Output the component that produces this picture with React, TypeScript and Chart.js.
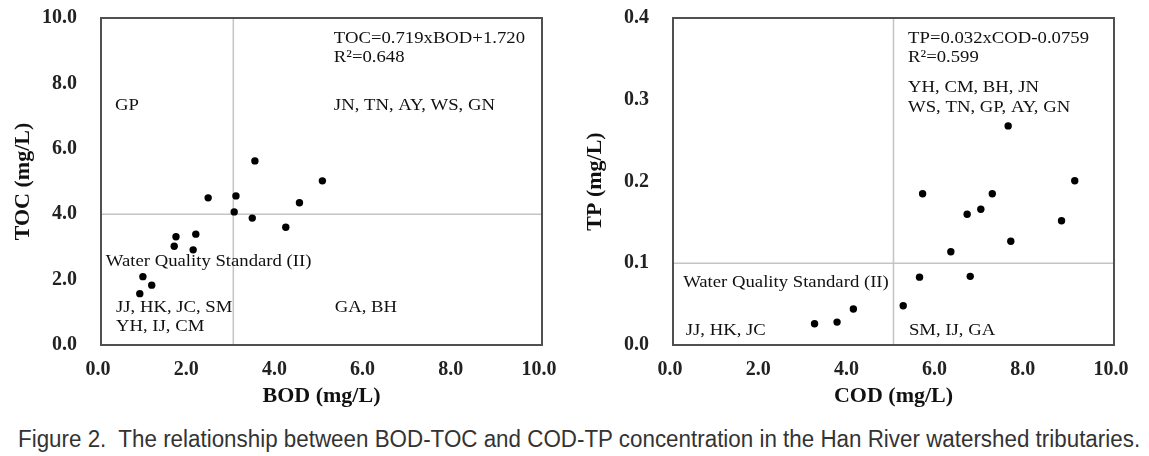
import React, { useEffect, useLayoutEffect, useRef } from "react";
import { Chart, registerables } from "chart.js";

Chart.register(...registerables);

// ---- data ----
const BOD = [3.49, 5.02, 2.43, 3.06, 4.5, 3.02, 3.43, 4.19, 1.7, 2.15, 1.66, 2.09, 0.95, 1.15, 0.88];
const TOC = [5.63, 5.02, 4.5, 4.56, 4.35, 4.07, 3.88, 3.6, 3.31, 3.39, 3.02, 2.91, 2.09, 1.83, 1.57];

const COD = [9.11, 5.66, 7.24, 6.67, 6.98, 8.81, 7.66, 6.3, 5.59, 6.74, 5.22, 4.09, 3.72, 3.21, 7.6];
const TP = [0.201, 0.185, 0.185, 0.16, 0.166, 0.152, 0.127, 0.114, 0.083, 0.084, 0.048, 0.044, 0.028, 0.026, 0.268];

const BOD_STANDARD = 3;
const TOC_STANDARD = 4;
const COD_STANDARD = 5;
const TP_STANDARD = 0.1;

const LEFT_NOTES = [
  "TOC=0.719xBOD+1.720",
  "R\u00B2=0.648",
  "GP",
  "JN, TN, AY, WS, GN",
  "Water Quality Standard (II)",
  "JJ, HK, JC, SM",
  "YH, IJ, CM",
  "GA, BH",
];
const RIGHT_NOTES = [
  "TP=0.032xCOD-0.0759",
  "R\u00B2=0.599",
  "YH, CM, BH, JN",
  "WS, TN, GP, AY, GN",
  "Water Quality Standard (II)",
  "JJ, HK, JC",
  "SM, IJ, GA",
];

const CAPTION =
  "Figure 2.  The relationship between BOD-TOC and COD-TP concentration in the Han River watershed tributaries.";

// ---- layout (anchor positions of notes, in axis units) ----
const LEFT_NOTE_POS = [
  [5.28, 9.38],
  [5.28, 8.8],
  [0.32, 7.33],
  [5.28, 7.33],
  [0.11, 2.54],
  [0.34, 1.16],
  [0.34, 0.55],
  [5.3, 1.16],
];
const RIGHT_NOTE_POS = [
  [5.33, 0.375],
  [5.33, 0.352],
  [5.33, 0.315],
  [5.33, 0.29],
  [0.23, 0.077],
  [0.29, 0.018],
  [5.35, 0.018],
];

const SERIF = '"Liberation Serif", "Times New Roman", serif';

const framePlugin = {
  id: "frame",
  beforeDatasetsDraw(chart: any, _args: any, opts: any) {
    const { ctx, chartArea: a, scales } = chart;
    const x = scales.x;
    const y = scales.y;
    ctx.save();
    // quadrant lines
    ctx.strokeStyle = "#c4c4c4";
    ctx.lineWidth = 1.5;
    const vx = x.getPixelForValue(opts.xStd);
    const hy = y.getPixelForValue(opts.yStd);
    ctx.beginPath();
    ctx.moveTo(vx, a.top);
    ctx.lineTo(vx, a.bottom);
    ctx.moveTo(a.left, hy);
    ctx.lineTo(a.right, hy);
    ctx.stroke();
    // frame
    ctx.strokeStyle = "#505050";
    ctx.lineWidth = 2;
    ctx.strokeRect(a.left, a.top, a.right - a.left, a.bottom - a.top);
    // notes
    ctx.fillStyle = "#111";
    ctx.font = `17px ${SERIF}`;
    ctx.textBaseline = "middle";
    ctx.textAlign = "left";
    opts.notes.forEach((t: string, i: number) => {
      const p = opts.pos[i];
      const px = x.getPixelForValue(p[0]);
      const py = y.getPixelForValue(p[1]);
      ctx.save();
      ctx.translate(px, py);
      ctx.scale(1.1, 1);
      ctx.fillText(t, 0, 0);
      ctx.restore();
    });
    ctx.restore();
  },
};

type Cfg = {
  xs: number[];
  ys: number[];
  xMax: number;
  yMax: number;
  xStep: number;
  yStep: number;
  xTitle: string;
  yTitle: string;
  yAxisWidth: number;
  rightPad: number;
  yTitlePad: number;
  xStd: number;
  yStd: number;
  notes: string[];
  pos: number[][];
};

function makeChart(canvas: HTMLCanvasElement, c: Cfg) {
  const tickFont = { family: SERIF, size: 20, weight: "bold" as const };
  const titleFont = { family: SERIF, size: 22, weight: "bold" as const };
  return new Chart(canvas, {
    type: "scatter",
    data: {
      datasets: [
        {
          data: c.xs.map((v, i) => ({ x: v, y: c.ys[i] })),
          backgroundColor: "#000",
          borderColor: "#000",
          borderWidth: 0,
          pointRadius: 3.7,
        },
      ],
    },
    plugins: [framePlugin as any],
    options: {
      animation: false,
      responsive: false,
      events: [],
      layout: { padding: { left: 0, top: 18, right: c.rightPad, bottom: 0 } },
      plugins: {
        legend: { display: false },
        tooltip: { enabled: false },
        frame: { xStd: c.xStd, yStd: c.yStd, notes: c.notes, pos: c.pos },
      } as any,
      scales: {
        x: {
          type: "linear",
          min: 0,
          max: c.xMax,
          grid: { display: false, drawTicks: true, tickLength: 13 },
          border: { display: false },
          ticks: {
            stepSize: c.xStep,
            autoSkip: false,
            maxRotation: 0,
            padding: 0,
            labelOffset: -3,
            color: "#222",
            font: tickFont,
            callback: (v: any) => Number(v).toFixed(1),
          },
          title: {
            display: true,
            text: c.xTitle,
            color: "#111",
            font: titleFont,
            padding: { top: 0, bottom: 10 },
          },
          afterFit: (s: any) => {
            s.height = 75;
          },
        },
        y: {
          type: "linear",
          min: 0,
          max: c.yMax,
          grid: { display: false, drawTicks: true, tickLength: 24 },
          border: { display: false },
          ticks: {
            stepSize: c.yStep,
            autoSkip: false,
            padding: 0,
            color: "#222",
            font: tickFont,
            callback: (v: any) => Number(v).toFixed(1),
          },
          title: {
            display: true,
            text: c.yTitle,
            color: "#111",
            font: titleFont,
            padding: { top: c.yTitlePad, bottom: 0 },
          },
          afterFit: (s: any) => {
            s.width = c.yAxisWidth;
          },
        },
      },
    } as any,
  });
}

function Caption() {
  const ref = useRef<HTMLSpanElement>(null);
  useLayoutEffect(() => {
    const el = ref.current;
    if (!el) return;
    el.style.transform = "none";
    const w = el.offsetWidth;
    if (w > 0) el.style.transform = `scaleX(${1122 / w})`;
  }, []);
  return (
    <span
      ref={ref}
      style={{
        position: "absolute",
        left: 18,
        top: 428,
        whiteSpace: "pre",
        fontFamily: '"Liberation Sans", Arial, sans-serif',
        fontSize: 23,
        lineHeight: "23px",
        color: "#333",
        transformOrigin: "left top",
      }}
    >
      {CAPTION}
    </span>
  );
}

export default function App() {
  const leftRef = useRef<HTMLCanvasElement>(null);
  const rightRef = useRef<HTMLCanvasElement>(null);

  useEffect(() => {
    const left = makeChart(leftRef.current!, {
      xs: BOD,
      ys: TOC,
      xMax: 10,
      yMax: 10,
      xStep: 2,
      yStep: 2,
      xTitle: "BOD (mg/L)",
      yTitle: "TOC (mg/L)",
      yAxisWidth: 101,
      rightPad: 32,
      yTitlePad: 10,
      xStd: BOD_STANDARD,
      yStd: TOC_STANDARD,
      notes: LEFT_NOTES,
      pos: LEFT_NOTE_POS,
    });
    const right = makeChart(rightRef.current!, {
      xs: COD,
      ys: TP,
      xMax: 10,
      yMax: 0.4,
      xStep: 2,
      yStep: 0.1,
      xTitle: "COD (mg/L)",
      yTitle: "TP (mg/L)",
      yAxisWidth: 99,
      rightPad: 35,
      yTitlePad: 8,
      xStd: COD_STANDARD,
      yStd: TP_STANDARD,
      notes: RIGHT_NOTES,
      pos: RIGHT_NOTE_POS,
    });
    return () => {
      left.destroy();
      right.destroy();
    };
  }, []);

  return (
    <div
      style={{
        position: "absolute",
        left: 0,
        top: 0,
        width: 1149,
        height: 456,
        background: "#fff",
        overflow: "hidden",
      }}
    >
      <canvas ref={leftRef} width={574} height={420} style={{ position: "absolute", left: 0, top: 0 }} />
      <canvas ref={rightRef} width={575} height={420} style={{ position: "absolute", left: 574, top: 0 }} />
      <Caption />
    </div>
  );
}
